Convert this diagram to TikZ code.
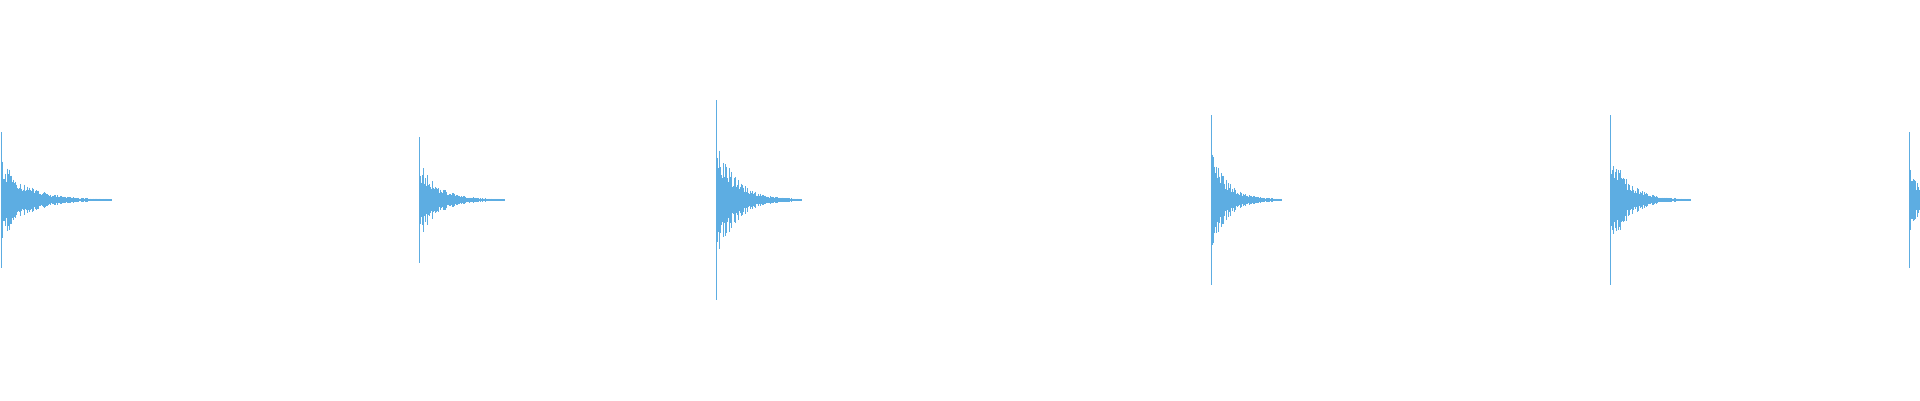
\documentclass[tikz,border=0pt]{standalone}
\usepackage{tikz}
\definecolor{wavecol}{HTML}{5DADE2}
\begin{document}
\begin{tikzpicture}[x=1pt, y=-1pt]
        \tikzstyle{wave}=[draw=wavecol, line width=1pt]
        \pgfmathsetseed{7}
        \useasboundingbox (0,0) rectangle (1920,400);
        \clip (0,0) rectangle (1920,400);
        % x0 / peak / length of each burst
        \foreach \xo/\amp/\len in {1/68/110, 419/63/85, 716/100/85, 1211/85/70, 1610/85/80, 1909/68/40} {
            \draw[wave] (\xo,200-\amp) -- (\xo,200+\amp);
            \foreach \i in {1,...,\len} {
                \pgfmathsetmacro{\a}{\amp*0.62*exp(-\i/(\len/4.5))*(0.45+0.55*rnd)+0.6}
                \draw[wave] (\xo+\i,200-\a) -- (\xo+\i,200+\a);
            }
        }
\end{tikzpicture}
\end{document}
